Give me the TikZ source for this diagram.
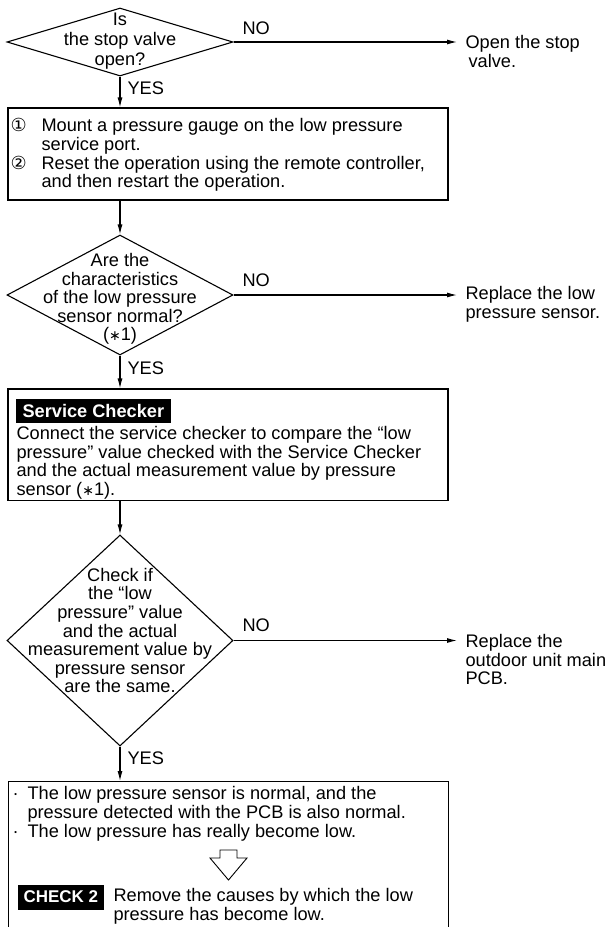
\documentclass[tikz,border=0pt]{standalone}
\usepackage{fontspec}
\setmainfont{Liberation Sans}
\newfontfamily\symfont{DejaVu Sans}
\usetikzlibrary{arrows.meta,shapes.geometric}
\newcommand{\bodyfont}{\fontsize{18.2}{18.6}\selectfont}
\newcommand{\circnum}[1]{\makebox[31pt][l]{{\symfont\fontsize{18}{18}\selectfont #1}}}
\newcommand{\subline}{\hspace*{31pt}}
\newcommand{\dotline}{\makebox[15pt][l]{\textperiodcentered}}
\newcommand{\astref}{({\symfont\fontsize{14}{14}\selectfont ∗}1)}

\begin{document}
\begin{tikzpicture}[x=1pt,y=-1pt,>={Latex[length=10pt,width=5pt]},line width=1.1pt,
  dia/.style={draw,diamond,inner sep=0pt,minimum width=226pt},
  box/.style={draw,rectangle,inner sep=0pt,minimum width=440pt},
  txt/.style={inner sep=0pt,font=\bodyfont,align=left},
  qtxt/.style={inner sep=0pt,font=\bodyfont,align=center},
  tag/.style={fill=black,text=white,font=\bfseries\bodyfont,inner xsep=7pt,inner ysep=0pt,minimum height=24pt}]
\useasboundingbox (0,0) rectangle (612,927);
\clip (0,0) rectangle (612,927);
\node[dia,minimum height=68pt] (dec1) at (120,42) {};
\node[qtxt,font=\fontsize{18.2}{20}\selectfont] (q1) at (120,41.5) {Is\\the stop valve\\open?};
\node[txt,anchor=north west] (act1) at (465,35) {Open the stop\\\hspace*{3pt}valve.};
\node[box,minimum height=92pt] (box1) at (228,154) {};
\node[txt,anchor=north west] (t1) at (10,118) {\circnum{①}Mount a pressure gauge on the low pressure\\
  \subline service port.\\
  \circnum{②}Reset the operation using the remote controller,\\
  \subline and then restart the operation.};
\node[dia,minimum height=120pt] (dec2) at (120,295) {};
\node[qtxt] (q2) at (120,299) {Are the\\characteristics\\of the low pressure\\sensor normal?\\\astref};
\node[txt,anchor=north west] (act2) at (465,286) {Replace the low\\pressure sensor.};
\node[box,minimum height=111.5pt] (box2) at (228,444.75) {};
\node[tag,anchor=north west] (sc) at (15,398) {Service Checker};
\node[txt,anchor=north west] (t2) at (16,426) {Connect the service checker to compare the “low\\
  pressure” value checked with the Service Checker\\
  and the actual measurement value by pressure\\
  sensor \astref.};
\node[dia,minimum height=211pt] (dec3) at (120,640.5) {};
\node[qtxt] (q3) at (120,630.5) {Check if\\the “low\\pressure” value\\and the actual\\measurement value by\\pressure sensor\\are the same.};
\node[txt,anchor=north west] (act3) at (465,634) {Replace the\\outdoor unit main\\PCB.};
\node[box,minimum height=200pt,anchor=north west] (box3) at (8,781) {};
\node[txt,anchor=north west,font=\fontsize{18.2}{19}\selectfont] (t3) at (12,786) {\dotline The low pressure sensor is normal, and the\\
  \hspace*{15pt}pressure detected with the PCB is also normal.\\
  \dotline The low pressure has really become low.};
\draw[line width=0.9pt] (220,850) -- (237,850) -- (237,858) -- (247,858) -- (228.5,880) -- (210,858) -- (220,858) -- cycle;
\node[tag,anchor=north west,font=\bfseries\fontsize{17}{17}\selectfont,inner xsep=6pt,minimum height=25pt] (chk) at (17,884) {CHECK 2};
\node[txt,anchor=north west] (t4) at (113,888) {Remove the causes by which the low\\pressure has become low.};
\foreach \n/\y in {1/28,2/280,3/625}{\node[txt,anchor=west] (no\n) at (242,\y) {NO};}
\foreach \n/\y in {1/88,2/368,3/758}{\node[txt,anchor=west] (yes\n) at (127,\y) {YES};}
\draw[->] (dec1.south) -- (dec1.south |- box1.north);
\draw[->] (box1.south -| dec2.north) -- (dec2.north);
\draw[->] (dec2.south) -- (dec2.south |- box2.north);
\draw[->] (box2.south -| dec3.north) -- (dec3.north);
\draw[->] (dec3.south) -- (dec3.south |- box3.north);
\draw[->,shorten >=8pt] (dec1.east) -- (dec1.east -| act1.west);
\draw[->,shorten >=8pt] (dec2.east) -- (dec2.east -| act2.west);
\draw[->,shorten >=8pt] (dec3.east) -- (dec3.east -| act3.west);
\end{tikzpicture}
\end{document}
